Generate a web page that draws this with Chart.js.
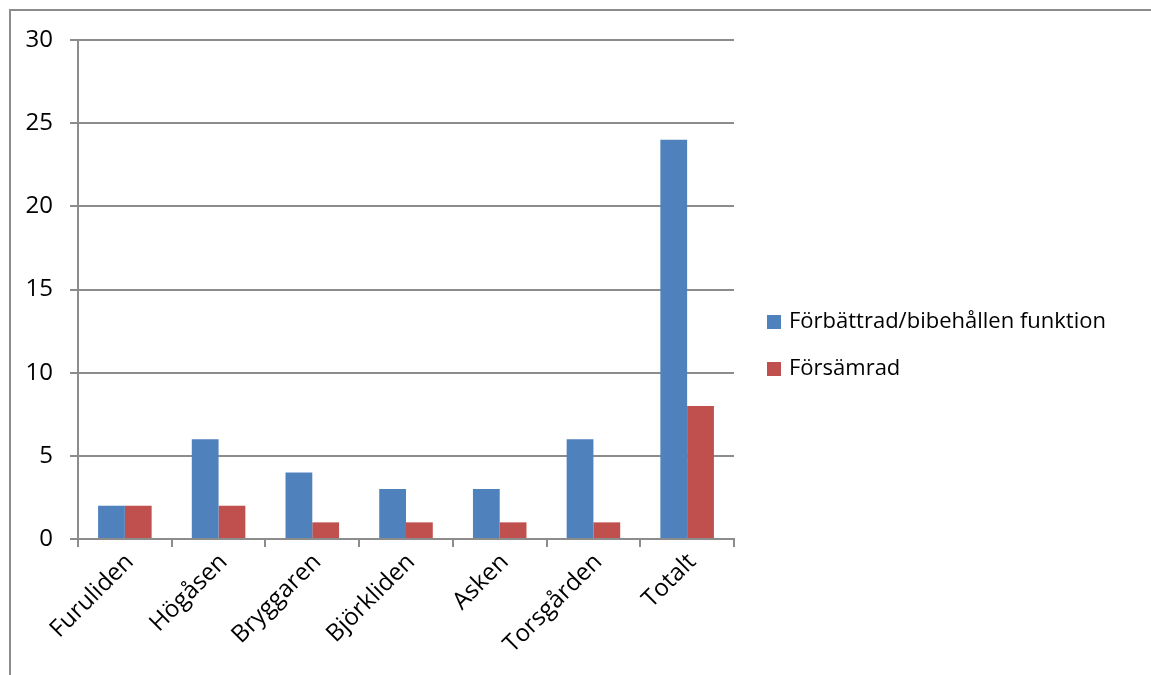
<!DOCTYPE html>
<html>
<head>
<meta charset="utf-8">
<script src="https://cdn.jsdelivr.net/npm/chart.js@4"></script>
<style>
  html, body { margin: 0; padding: 0; background: #fff; }
  #wrap { position: relative; width: 1151px; height: 675px; overflow: hidden; }
  #frame { position: absolute; left: 9px; top: 9px; width: 1200px; height: 700px;
           border-top: 2px solid #8c8c8c; border-left: 2px solid #8c8c8c; }
  #legend { position: absolute; left: 767px; top: 304px; font-family: "Open Sans", sans-serif;
            font-size: 22px; color: #000; }
  #legend div { height: 47px; display: flex; align-items: flex-start; }
  #legend span.box { display: inline-block; width: 14px; height: 14px; margin-top: 11px; margin-right: 8px; }
</style>
</head>
<body>
<div id="wrap">
  <div id="frame"></div>
  <canvas id="chart" width="1151" height="675"></canvas>
  <div id="legend"></div>
</div>
<script>
const categories = ['Furuliden', 'Högåsen', 'Bryggaren', 'Björkliden', 'Asken', 'Torsgården', 'Totalt'];
const improved = [2, 6, 4, 3, 3, 6, 24];
const worse = [2, 2, 1, 1, 1, 1, 8];
const seriesNames = ['Förbättrad/bibehållen funktion', 'Försämrad'];
const colors = ['#4F81BD', '#C0504D'];

const font = { family: 'Open Sans', size: 24 };

const chart = new Chart(document.getElementById('chart'), {
  type: 'bar',
  data: {
    labels: categories,
    datasets: [
      { label: seriesNames[0], data: improved, backgroundColor: colors[0] },
      { label: seriesNames[1], data: worse, backgroundColor: colors[1] }
    ]
  },
  options: {
    responsive: false,
    animation: false,
    categoryPercentage: 2 / 3.5,
    barPercentage: 1,
    layout: { padding: { left: 0, top: 40, right: 417, bottom: 0 } },
    plugins: { legend: { display: false }, tooltip: { enabled: false } },
    scales: {
      x: {
        grid: { offset: true, drawOnChartArea: false, color: '#8c8c8c', lineWidth: 2, tickLength: 8 },
        border: { color: '#8c8c8c', width: 2 },
        ticks: { color: '#000', font: font, minRotation: 45, maxRotation: 45, padding: 1, labelOffset: 5 },
        afterFit: s => { s.height = 136; }
      },
      y: {
        min: 0, max: 30,
        grid: { color: '#8c8c8c', lineWidth: 2, tickLength: 8 },
        border: { color: '#8c8c8c', width: 2 },
        ticks: { stepSize: 5, color: '#000', font: font, padding: 17 },
        afterFit: s => { s.width = 78; }
      }
    }
  }
});

// legend
const legend = document.getElementById('legend');
seriesNames.forEach((name, i) => {
  const row = document.createElement('div');
  row.innerHTML = `<span class="box" style="background:${colors[i]}"></span><span>${name}</span>`;
  legend.appendChild(row);
});
</script>
</body>
</html>
